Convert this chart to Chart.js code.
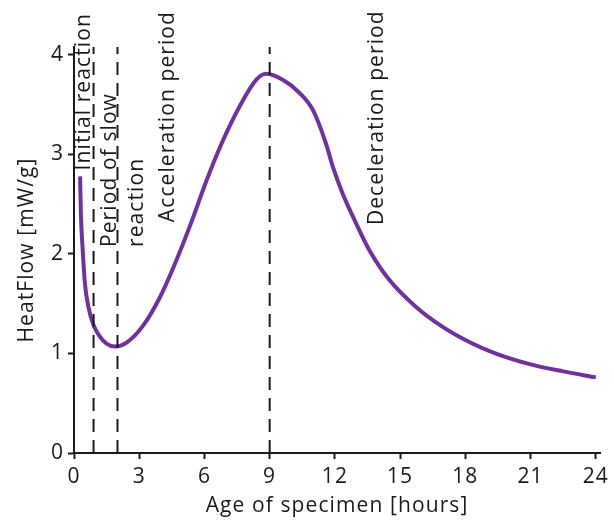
<!DOCTYPE html>
<html>
<head>
<meta charset="utf-8">
<script src="https://cdn.jsdelivr.net/npm/chart.js@4.4.1/dist/chart.umd.min.js"></script>
<style>
  html, body { margin: 0; padding: 0; background: #fff; }
  #wrap { width: 614px; height: 522px; }
</style>
</head>
<body>
<div id="wrap"><canvas id="heat"></canvas></div>
<script>
// heat flow curve, read in hours / mW/g
var hours = [0.28, 0.32, 0.4, 0.5, 0.66, 0.89, 1.19, 1.5, 1.88, 2.42, 3.18, 3.94, 4.6, 5.4, 6.1, 6.85, 7.61, 8.38, 8.84, 9.6, 10.37, 10.98, 11.59, 11.9, 12.35, 12.97, 13.58, 14.5, 15.72, 16.94, 18.32, 19.5, 21.0, 22.5, 24.0];
var heatFlow = [2.78, 2.38, 2.04, 1.71, 1.47, 1.29, 1.17, 1.10, 1.07, 1.11, 1.28, 1.56, 1.88, 2.32, 2.74, 3.14, 3.48, 3.75, 3.81, 3.75, 3.62, 3.45, 3.11, 2.88, 2.61, 2.31, 2.04, 1.74, 1.47, 1.27, 1.10, 0.99, 0.89, 0.82, 0.76];

// period boundaries (hours)
var boundaries = [0.9, 2.0, 9.0];

// period names: position in hours, start height in mW/g
var periodNames = [
    { lines: ["Initial reaction"], hour: 0.73, from: 2.84 },
    { lines: ["Period of slow", "reaction"], hour: 1.93, from: 2.07 },
    { lines: ["Acceleration period"], hour: 4.59, from: 2.32 },
    { lines: ["Deceleration period"], hour: 14.2, from: 2.29 }
];

var xTicks = [0, 3, 6, 9, 12, 15, 18, 21, 24];
var yTicks = [0, 1, 2, 3, 4];

var FONT = "'Open Sans', sans-serif";
var SIZE = 21;
var SPACING = "1.1px";
var INK = "#1a1a1a";

var datasets = [{
    label: "HeatFlow",
    data: hours.map(function (h, i) { return { x: h, y: heatFlow[i] }; }),
    borderColor: "#7030a0",
    borderWidth: 4,
    pointRadius: 0,
    fill: false,
    cubicInterpolationMode: "monotone",
    order: 2
}];

boundaries.forEach(function (b) {
    datasets.push({
        label: "boundary " + b,
        data: [{ x: b, y: 0 }, { x: b, y: 4.08 }],
        borderColor: INK,
        borderWidth: 2,
        borderDash: [13, 8],
        pointRadius: 0,
        fill: false,
        order: 1
    });
});

// canvas resets drop letterSpacing, so put it back before layout and drawing
var wideText = {
    id: "wideText",
    beforeLayout: function (chart) { chart.ctx.letterSpacing = SPACING; },
    beforeDraw: function (chart) { chart.ctx.letterSpacing = SPACING; }
};

var periodLabels = {
    id: "periodLabels",
    afterDatasetsDraw: function (chart) {
        var ctx = chart.ctx;
        var xs = chart.scales.x, ys = chart.scales.y;
        ctx.save();
        ctx.letterSpacing = SPACING;
        ctx.fillStyle = INK;
        ctx.font = SIZE + "px " + FONT;
        ctx.textAlign = "left";
        ctx.textBaseline = "alphabetic";
        periodNames.forEach(function (p) {
            var px = xs.getPixelForValue(p.hour);
            var py = ys.getPixelForValue(p.from);
            p.lines.forEach(function (line, i) {
                ctx.save();
                ctx.translate(px + i * 27, py);
                ctx.rotate(-Math.PI / 2);
                ctx.fillText(line, 0, 0);
                ctx.restore();
            });
        });
        ctx.restore();
    }
};

new Chart(document.getElementById("heat"), {
    type: "line",
    data: { datasets: datasets },
    plugins: [wideText, periodLabels],
    options: {
        responsive: true,
        maintainAspectRatio: false,
        animation: false,
        layout: { padding: { top: 47, right: 12, left: 0, bottom: 0 } },
        plugins: { legend: { display: false }, tooltip: { enabled: false } },
        scales: {
            x: {
                type: "linear",
                min: 0,
                max: 24.2,
                afterBuildTicks: function (s) { s.ticks = xTicks.map(function (v) { return { value: v }; }); },
                afterFit: function (s) { s.height = 69; },
                grid: { drawOnChartArea: false, tickLength: 6, tickColor: INK, tickWidth: 2 },
                border: { color: INK, width: 2 },
                ticks: { color: INK, font: { family: FONT, size: SIZE }, padding: 5, maxRotation: 0 },
                title: { display: true, text: "Age of specimen [hours]", color: INK, font: { family: FONT, size: SIZE }, padding: { top: 0, bottom: 3 } }
            },
            y: {
                min: 0,
                max: 4.08,
                afterBuildTicks: function (s) { s.ticks = yTicks.map(function (v) { return { value: v }; }); },
                afterFit: function (s) { s.width = 74; },
                grid: { drawOnChartArea: false, tickLength: 6, tickColor: INK, tickWidth: 2 },
                border: { color: INK, width: 2 },
                ticks: { color: INK, font: { family: FONT, size: SIZE }, padding: 4 },
                title: { display: true, text: "HeatFlow [mW/g]", color: INK, font: { family: FONT, size: SIZE }, padding: { top: 14, bottom: 8 } }
            }
        }
    }
});
</script>
</body>
</html>
